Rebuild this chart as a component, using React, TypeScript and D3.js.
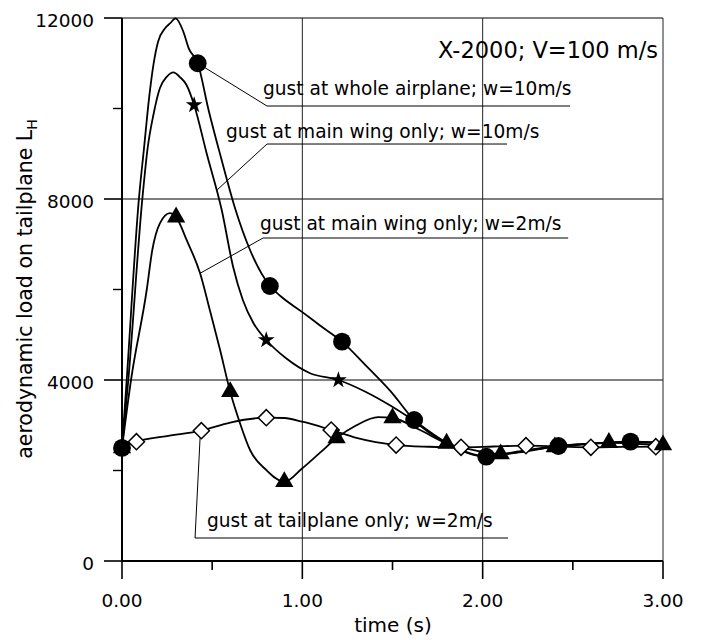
import React from "react";
import * as d3 from "d3";

// ---- data ----
const T_WHOLE = [0, 0.026, 0.094, 0.122, 0.15, 0.174, 0.2, 0.238, 0.266, 0.297, 0.34, 0.37, 0.42, 0.48, 0.55, 0.63, 0.71, 0.82, 0.88, 1.0, 1.1, 1.22, 1.35, 1.49, 1.62, 1.8, 2.02, 2.2, 2.42, 2.62, 2.82, 3.0];
const V_WHOLE = [2500, 4000, 8015, 9120, 10226, 10961, 11477, 11770, 11880, 11990, 11700, 11330, 11000, 9967, 8900, 7757, 6873, 6077, 5850, 5500, 5200, 4847, 4330, 3750, 3116, 2600, 2305, 2420, 2541, 2600, 2637, 2620];

const T_WING10 = [0, 0.035, 0.113, 0.142, 0.174, 0.21, 0.248, 0.285, 0.32, 0.358, 0.4, 0.47, 0.553, 0.616, 0.67, 0.73, 0.8, 0.91, 1.04, 1.2, 1.35, 1.49, 1.62, 1.8, 2.0, 2.2, 2.4, 2.6, 2.8, 3.0];
const V_WING10 = [2500, 4000, 8015, 9120, 9856, 10447, 10700, 10800, 10700, 10519, 10077, 9000, 7757, 6504, 5768, 5250, 4884, 4480, 4155, 4000, 3740, 3430, 3100, 2620, 2330, 2400, 2530, 2590, 2620, 2610];

const T_WING2 = [0, 0.05, 0.137, 0.168, 0.21, 0.266, 0.3, 0.36, 0.433, 0.49, 0.544, 0.6, 0.654, 0.71, 0.8, 0.9, 1.0, 1.1, 1.19, 1.3, 1.42, 1.5, 1.65, 1.8, 1.95, 2.1, 2.25, 2.4, 2.55, 2.7, 2.85, 3.0];
const V_WING2 = [2500, 4000, 5989, 6873, 7463, 7690, 7600, 7080, 6358, 5500, 4663, 3740, 3050, 2453, 2011, 1750, 2050, 2400, 2718, 3000, 3180, 3160, 2900, 2600, 2450, 2365, 2440, 2520, 2570, 2615, 2590, 2563];

const T_TAIL2 = [0, 0.08, 0.25, 0.44, 0.6, 0.8, 0.9, 1.0, 1.16, 1.3, 1.52, 1.7, 1.88, 2.06, 2.24, 2.42, 2.6, 2.78, 2.96, 3.0];
const V_TAIL2 = [2500, 2637, 2760, 2880, 3060, 3167, 3160, 3078, 2895, 2720, 2563, 2525, 2512, 2530, 2548, 2530, 2512, 2520, 2526, 2526];

// marker positions
const M_WHOLE_T = [0, 0.42, 0.82, 1.22, 1.62, 2.02, 2.42, 2.82];
const M_WHOLE_V = [2500, 11000, 6077, 4847, 3116, 2305, 2541, 2637];
const M_WING10_T = [0, 0.4, 0.8, 1.2];
const M_WING10_V = [2500, 10077, 4884, 4000];
const M_WING2_T = [0, 0.3, 0.6, 0.9, 1.19, 1.5, 1.8, 2.1, 2.4, 2.7, 3.0];
const M_WING2_V = [2500, 7600, 3740, 1750, 2718, 3160, 2600, 2365, 2520, 2615, 2563];
const M_TAIL2_T = [0.08, 0.44, 0.8, 1.16, 1.52, 1.88, 2.24, 2.6, 2.96];
const M_TAIL2_V = [2637, 2880, 3167, 2895, 2563, 2512, 2548, 2512, 2526];

const X_TICKS = [0, 1, 2, 3];
const X_TICK_LABELS = ["0.00", "1.00", "2.00", "3.00"];
const X_MINOR = [0.5, 1.5, 2.5];
const Y_TICKS = [0, 4000, 8000, 12000];
const Y_TICK_LABELS = ["0", "4000", "8000", "12000"];
const Y_MINOR = [2000, 6000, 10000];

const ANNOT_TEXT = [
  "gust at whole airplane; w=10m/s",
  "gust at main wing only; w=10m/s",
  "gust at main wing only; w=2m/s",
  "gust at tailplane only; w=2m/s",
];
const ANNOT_TEXT_POS: [number, number][] = [
  [0.782, 10298],
  [0.577, 9348],
  [0.765, 7315],
  [0.471, 751],
];
const ANNOT_LEADER: [number, number][][] = [
  [[0.42, 11000], [0.804, 10055], [2.485, 10055]],
  [[0.527, 8199], [0.804, 9215], [2.135, 9215]],
  [[0.433, 6358], [0.782, 7138], [2.474, 7138]],
  [[0.435, 2880], [0.405, 508], [2.141, 508]],
];

const TITLE = "X-2000; V=100 m/s";
const X_TITLE = "time (s)";
const Y_TITLE = "aerodynamic load on tailplane L";
const Y_TITLE_SUB = "H";

const FONT = "'DejaVu Sans', Verdana, sans-serif";

export default function App() {
  const W = 703, H = 640;
  const x = d3.scaleLinear().domain([0, 3]).range([122, 663]);
  const y = d3.scaleLinear().domain([0, 12000]).range([561, 18]);
  const line = d3
    .line<[number, number]>()
    .x((d) => x(d[0]))
    .y((d) => y(d[1]))
    .curve(d3.curveMonotoneX);
  const poly = d3
    .line<[number, number]>()
    .x((d) => x(d[0]))
    .y((d) => y(d[1]));

  const zip = (a: number[], b: number[]) => a.map((t, i) => [t, b[i]] as [number, number]);
  const series = [
    zip(T_WHOLE, V_WHOLE),
    zip(T_WING10, V_WING10),
    zip(T_WING2, V_WING2),
    zip(T_TAIL2, V_TAIL2),
  ];

  const circlePath = d3.symbol(d3.symbolCircle, 250)()!;
  const starPath = d3.symbol(d3.symbolStar, 88)()!;
  const triPath = d3.symbol(d3.symbolTriangle, 145)()!;
  const diaPath = d3.symbol(d3.symbolSquare, 130)()!;

  const [x0, x1] = x.range();
  const [y0, y1] = y.range();

  return (
    <svg
      width={W}
      height={H}
      style={{ position: "absolute", left: 0, top: 0, background: "#fff" }}
      fontFamily={FONT}
    >
      <rect x={0} y={0} width={W} height={H} fill="#fff" />
      {/* grid */}
      {Y_TICKS.filter((v) => v > 0).map((v) => (
        <line key={"gy" + v} x1={x0} x2={x1} y1={y(v)} y2={y(v)} stroke="#000" strokeWidth={1} />
      ))}
      {X_TICKS.filter((t) => t > 0).map((t) => (
        <line key={"gx" + t} x1={x(t)} x2={x(t)} y1={y1} y2={y0} stroke="#222" strokeWidth={1} />
      ))}
      {/* ticks */}
      {Y_TICKS.map((v) => (
        <line key={"ty" + v} x1={x0 - 18} x2={x0} y1={y(v)} y2={y(v)} stroke="#000" strokeWidth={1.6} />
      ))}
      {Y_MINOR.map((v) => (
        <line key={"tym" + v} x1={x0 - 9} x2={x0} y1={y(v)} y2={y(v)} stroke="#000" strokeWidth={1.4} />
      ))}
      {X_TICKS.map((t) => (
        <line key={"tx" + t} x1={x(t)} x2={x(t)} y1={y0} y2={y0 + 18} stroke="#000" strokeWidth={1.6} />
      ))}
      {X_MINOR.map((t) => (
        <line key={"txm" + t} x1={x(t)} x2={x(t)} y1={y0} y2={y0 + 9} stroke="#000" strokeWidth={1.6} />
      ))}
      {/* axes */}
      <line x1={x0} x2={x0} y1={y1} y2={y0} stroke="#000" strokeWidth={2} />
      <line x1={x0} x2={x1} y1={y0} y2={y0} stroke="#000" strokeWidth={2} />

      {/* tick labels */}
      {Y_TICKS.map((v, i) => (
        <text key={"ly" + v} x={94} y={y(v) + 8.5} textAnchor="end" fontSize={18.5} fill="#000">
          {Y_TICK_LABELS[i]}
        </text>
      ))}
      {X_TICKS.map((t, i) => (
        <text key={"lx" + t} x={x(t)} y={607} textAnchor="middle" fontSize={18.5} fill="#000">
          {X_TICK_LABELS[i]}
        </text>
      ))}
      <text x={393} y={632} textAnchor="middle" fontSize={20} fill="#000">
        {X_TITLE}
      </text>
      <text transform={`translate(32,289) rotate(-90)`} textAnchor="middle" fontSize={20.5} fill="#000">
        {Y_TITLE}
        <tspan fontSize={14} dy={5}>
          {Y_TITLE_SUB}
        </tspan>
      </text>
      <text x={658} y={58} textAnchor="end" fontSize={22.5} fill="#000">
        {TITLE}
      </text>

      {/* annotations */}
      {ANNOT_LEADER.map((pts, i) => (
        <path key={"al" + i} d={poly(pts)!} fill="none" stroke="#000" strokeWidth={1} />
      ))}
      {ANNOT_TEXT.map((s, i) => (
        <text
          key={"at" + i}
          x={x(ANNOT_TEXT_POS[i][0])}
          y={y(ANNOT_TEXT_POS[i][1])}
          fontSize={18.6}
          fill="#000"
        >
          {s}
        </text>
      ))}

      {/* curves */}
      {series.map((s, i) => (
        <path key={"s" + i} d={line(s)!} fill="none" stroke="#000" strokeWidth={1.8} />
      ))}

      {/* markers */}
      {M_TAIL2_T.map((t, i) => (
        <path
          key={"md" + i}
          d={diaPath}
          transform={`translate(${x(t)},${y(M_TAIL2_V[i])}) rotate(45)`}
          fill="#fff"
          stroke="#000"
          strokeWidth={1.5}
        />
      ))}
      {M_WING10_T.map((t, i) => (
        <path key={"ms" + i} d={starPath} transform={`translate(${x(t)},${y(M_WING10_V[i])})`} fill="#000" />
      ))}
      {M_WING2_T.map((t, i) => (
        <path key={"mt" + i} d={triPath} transform={`translate(${x(t)},${y(M_WING2_V[i])})`} fill="#000" />
      ))}
      {M_WHOLE_T.map((t, i) => (
        <path key={"mc" + i} d={circlePath} transform={`translate(${x(t)},${y(M_WHOLE_V[i])})`} fill="#000" />
      ))}
    </svg>
  );
}
